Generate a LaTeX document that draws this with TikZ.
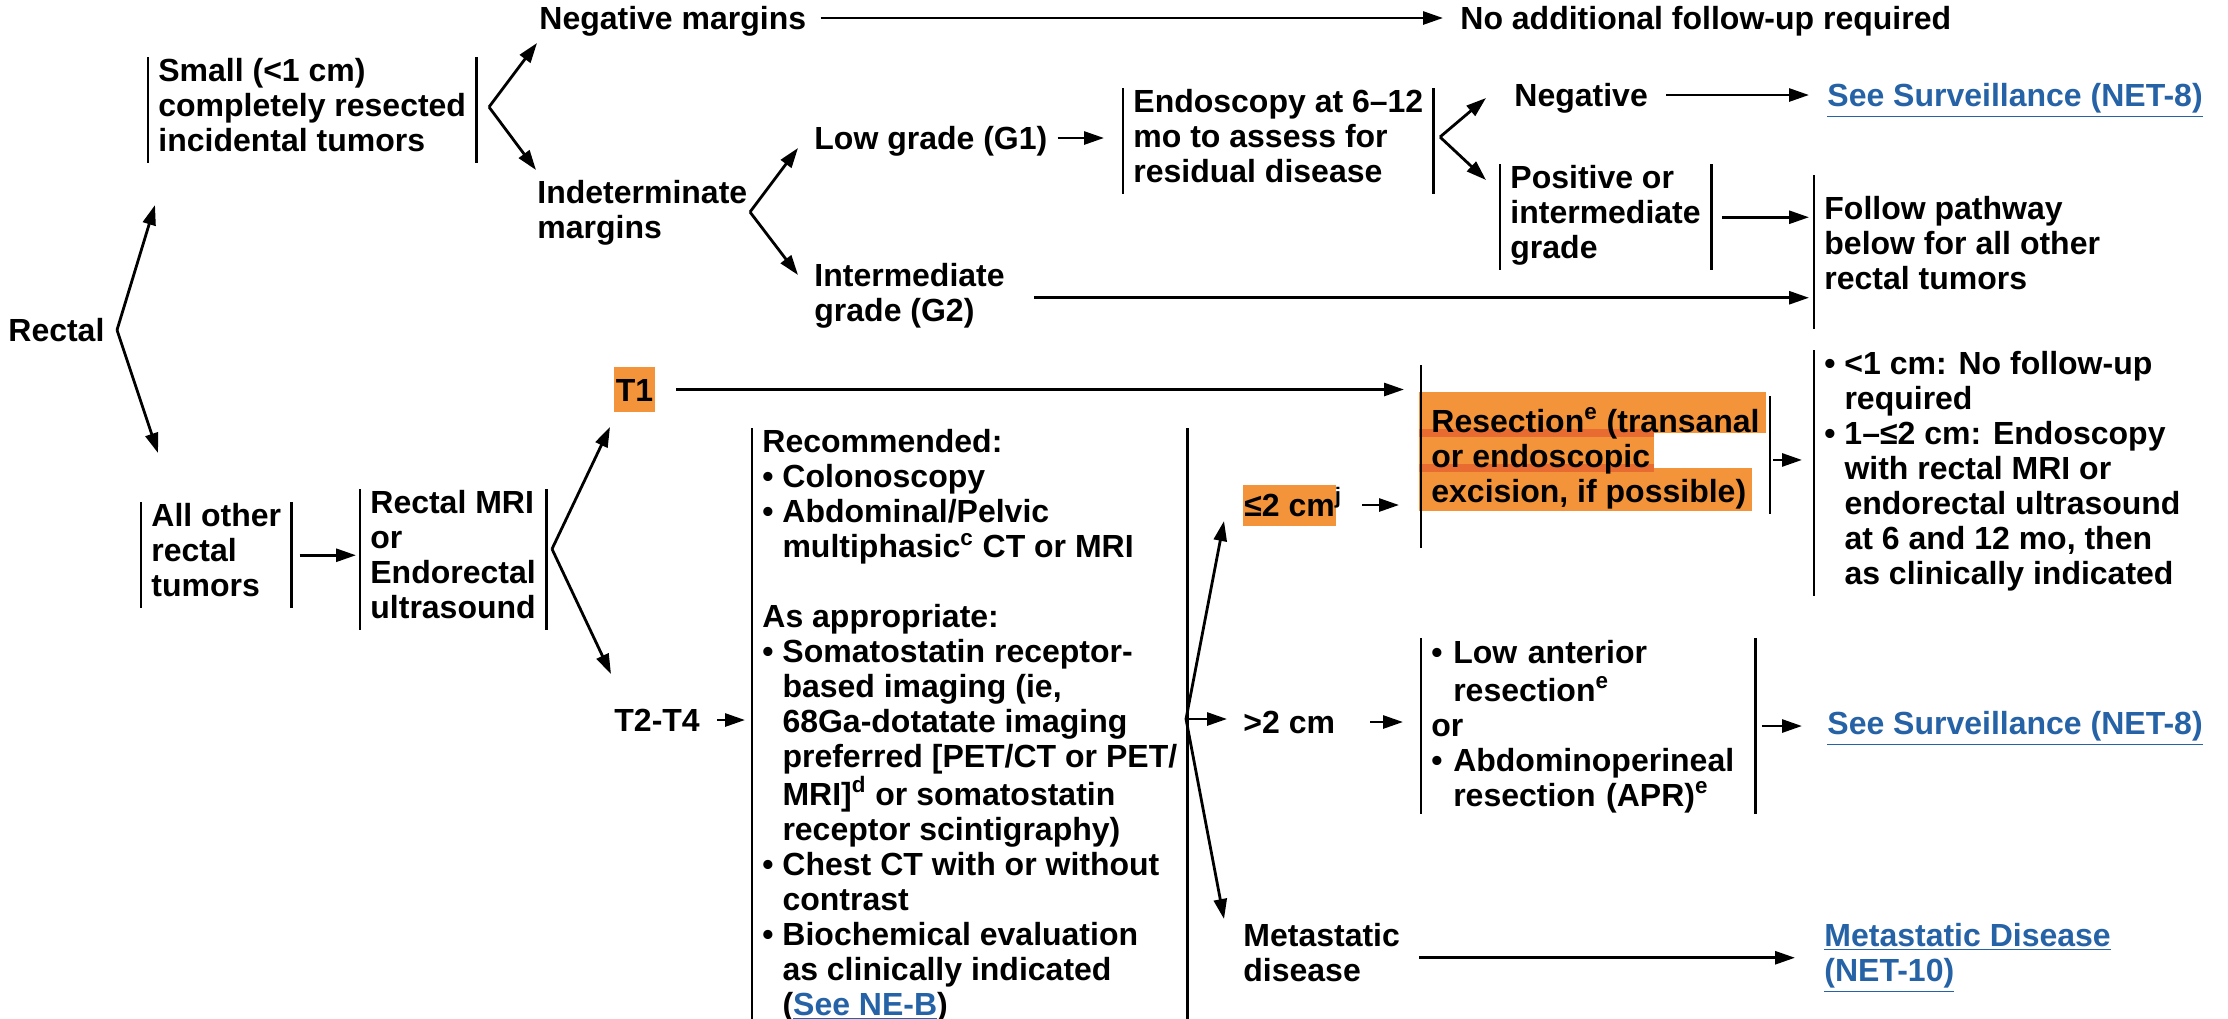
\documentclass[tikz,border=0pt]{standalone}
\usepackage{fontspec}
\setmainfont{Liberation Sans}
\usepackage{xcolor}
\usepackage{tikz}
\usetikzlibrary{arrows.meta}

\definecolor{hl}{RGB}{244,148,58}
\definecolor{hldark}{RGB}{232,108,50}
\definecolor{linkblue}{RGB}{38,98,166}

\newcommand{\bul}{\textbullet\ }
\newcommand{\indt}{\hphantom{\textbullet\ }}
\newcommand{\lnk}[1]{\textcolor{linkblue}{\underline{#1}}}

\tikzset{
  txt/.style={inner sep=0pt, anchor=west, text height=11.5pt, text depth=0pt},
  multi/.style={inner sep=0pt, anchor=north west, align=left, execute at begin node=\strut},
  bx/.style={multi, inner xsep=4.5pt},
  hlbox/.style={fill=hl},
  arr/.style={-{Triangle[length=10pt,width=6.5pt]}}
}

\begin{document}
\begin{tikzpicture}[x=0.5pt, y=-0.5pt, line width=1.4pt,
    font=\bfseries\fontsize{16}{17.5}\selectfont]
    \useasboundingbox (0,0) rectangle (2228,1018);

    % Define nodes
    \node[txt] (rectal) at (7,330) {Rectal};
    \node[bx] (small) at (148,57) {Small (<1 cm)\\completely resected\\incidental tumors};
    \node[bx] (allother) at (141,502) {All other\\rectal\\tumors};
    \node[bx] (mri) at (360,489) {Rectal MRI\\or\\Endorectal\\ultrasound};

    \node[txt] (negm) at (538,18) {Negative margins};
    \node[txt] (noadd) at (1459,18) {No additional follow-up required};
    \node[multi] (indet) at (536,179) {Indeterminate\\margins};
    \node[txt] (low) at (813,138) {Low grade (G1)};
    \node[multi] (g2) at (813,262) {Intermediate\\grade (G2)};
    \node[bx] (endo) at (1123,88) {Endoscopy at 6--12\\mo to assess for\\residual disease};
    \node[txt] (neg) at (1513,95) {Negative};
    \node[txt] (surv1) at (1826,95) {\lnk{See Surveillance (NET-8)}};
    \node[bx] (pos) at (1500,164) {Positive or\\intermediate\\grade};
    \node[bx] (follow) at (1814,195) {Follow pathway\\below for all other\\rectal tumors};

    \node[txt, hlbox, inner xsep=0.75pt, inner ysep=5.5pt] (t1) at (613,389.5) {T1};
    \node[txt] (t24) at (613,720) {T2-T4};
    \node[bx] (rec) at (752,428) {Recommended:\\\bul Colonoscopy\\\bul Abdominal/Pelvic\\\indt multiphasic\textsuperscript{c} CT or MRI\\[17.5pt]As appropriate:\\\bul Somatostatin receptor-\\\indt based imaging (ie,\\\indt 68Ga-dotatate imaging\\\indt preferred [PET/CT or PET/\\\indt MRI]\textsuperscript{d} or somatostatin\\\indt receptor scintigraphy)\\\bul Chest CT with or without\\\indt contrast\\\bul Biochemical evaluation\\\indt as clinically indicated\\\indt (\lnk{See NE-B})};

    \node[txt, hlbox, inner xsep=0.5pt, inner ysep=4.5pt] (sm2) at (1242,505) {≤2 cm\rlap{\textsuperscript{j}}};
    \node[txt] (gt2) at (1242,722) {>2 cm};
    \node[multi] (meta) at (1242,922) {Metastatic\\disease};

    % marker strokes behind the resection text
    \fill[hl] (1419,392) rectangle (1766,433);
    \fill[hl] (1419,433) rectangle (1654,468);
    \fill[hl] (1419,468) rectangle (1752,511);
    \fill[hldark] (1419,429) rectangle (1654,437);
    \fill[hldark] (1419,464) rectangle (1654,472);
    \node[bx] (res) at (1421,406) {Resection\textsuperscript{e} (transanal\\or endoscopic\\excision, if possible)};
    \node[bx, text width=157pt] (lar) at (1421,638) {\bul Low anterior\\\indt resection\textsuperscript{e}\\or\\\bul Abdominoperineal\\\indt resection (APR)\textsuperscript{e}};
    \node[bx] (bul) at (1814,350) {\bul <1 cm: No follow-up\\\indt required\\\bul 1--≤2 cm: Endoscopy\\\indt with rectal MRI or\\\indt endorectal ultrasound\\\indt at 6 and 12 mo, then\\\indt as clinically indicated};
    \node[txt] (surv2) at (1826,723) {\lnk{See Surveillance (NET-8)}};
    \node[multi] (metd) at (1823,922) {\lnk{Metastatic Disease}\\\lnk{(NET-10)}};

    % Bars
    \foreach \n in {small,allother,mri,endo,pos,rec,lar}
        \draw (\n.north west) -- (\n.south west) (\n.north east) -- (\n.south east);
    \draw (bul.north west) -- (bul.south west);
    \draw ([yshift=10pt]follow.north west) -- ([yshift=-14pt]follow.south west);
    \draw ([yshift=20.5pt]res.north west) -- ([yshift=-17pt]res.south west);
    \draw ([yshift=5pt]res.north east) -- (res.south east);

    % Fork points and arrow ends
    \coordinate (fRect) at (117,330);
    \coordinate (tSmall) at (155,205);
    \coordinate (tAll) at (158,453);
    \coordinate (fSmall) at (489,107);
    \coordinate (tNegm) at (537,43);
    \coordinate (tIndet) at (536,170);
    \coordinate (fIndet) at (750,212);
    \coordinate (tLow) at (798,148);
    \coordinate (tG2) at (798,275);
    \coordinate (fEndo) at (1440,137);
    \coordinate (tNeg) at (1486,98);
    \coordinate (tPos) at (1486,180);
    \coordinate (fMri) at (552,549);
    \coordinate (tT1) at (610,427);
    \coordinate (tT24) at (611,674);
    \coordinate (fRec) at (1186,719);
    \coordinate (tSm2) at (1224,521);
    \coordinate (tMeta) at (1224,919);

    % Draw arrows
    \draw[arr] (fRect) -- (tSmall);
    \draw[arr] (fRect) -- (tAll);
    \draw[arr] (fSmall) -- (tNegm);
    \draw[arr] (fSmall) -- (tIndet);
    \draw[arr, shorten <=6.5pt, shorten >=8pt] (negm.east) -- (noadd.west);
    \draw[arr] (fIndet) -- (tLow);
    \draw[arr] (fIndet) -- (tG2);
    \draw[arr, shorten <=4.5pt, shorten >=9.5pt] (low.east) -- (low.east -| endo.west);
    \draw[arr] (fEndo) -- (tNeg);
    \draw[arr] (fEndo) -- (tPos);
    \draw[arr, shorten <=8.5pt, shorten >=8.5pt] (neg.east) -- (surv1.west);
    \draw[arr, shorten <=5.5pt, shorten >=2.5pt] (pos.east) -- (pos.east -| follow.west);
    \draw[arr, shorten <=14pt, shorten >=2.5pt] (g2.east) -- (g2.east -| follow.west);

    \draw[arr, shorten <=4pt, shorten >=2pt] (allother.east) -- (allother.east -| mri.west);
    \draw[arr] (fMri) -- (tT1);
    \draw[arr] (fMri) -- (tT24);
    \draw[arr, shorten <=10pt, shorten >=8.5pt] (t1.east) -- (t1.east -| res.west);
    \draw[arr, shorten <=8pt, shorten >=3.5pt] (t24.east) -- (t24.east -| rec.west);
    \draw[arr] (fRec) -- (tSm2);
    \draw[arr, shorten >=7.5pt] (fRec) -- (fRec -| gt2.west);
    \draw[arr] (fRec) -- (tMeta);
    \draw[arr, shorten <=12.5pt, shorten >=11pt] (sm2.east) -- (sm2.east -| res.west);
    \draw[arr, shorten <=1.5pt, shorten >=6pt] (res.east) -- (res.east -| bul.west);
    \draw[arr, shorten <=17pt, shorten >=9pt] (gt2.east) -- (gt2.east -| lar.west);
    \draw[arr, shorten <=3pt, shorten >=12pt] (lar.east) -- (lar.east -| surv2.west);
    \draw[arr, shorten <=9pt, shorten >=14pt] (meta.east) -- (meta.east -| metd.west);
\end{tikzpicture}
\end{document}
